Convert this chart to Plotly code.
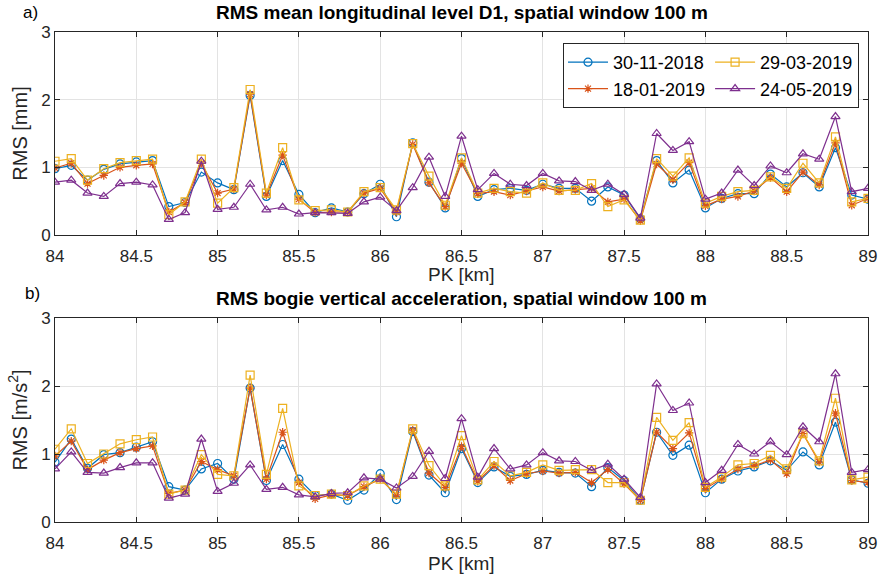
import plotly.graph_objects as go
from plotly.subplots import make_subplots

pk = [round(84 + 0.1 * i, 1) for i in range(51)]

labels = ["30-11-2018", "18-01-2019", "29-03-2019", "24-05-2019"]
colors = ["#0072BD", "#D95319", "#EDB120", "#7E2F8E"]
symbols = ["circle-open", "asterisk-open", "square-open", "triangle-up-open"]
legend_cols = ["col1", "col1", "col2", "col2"]

d1_2018_11 = [0.98, 1.03, 0.81, 0.97, 1.05, 1.08, 1.10, 0.42, 0.48, 0.93, 0.77, 0.67, 2.06, 0.57, 1.10, 0.60, 0.33, 0.40, 0.34, 0.61,
              0.75, 0.27, 1.36, 0.78, 0.40, 1.13, 0.57, 0.67, 0.69, 0.66, 0.75, 0.69, 0.69, 0.50, 0.71, 0.59, 0.24, 1.10, 0.77, 0.96,
              0.40, 0.54, 0.61, 0.61, 0.90, 0.71, 0.92, 0.71, 1.29, 0.59, 0.53]
d1_2019_01 = [0.99, 1.06, 0.76, 0.88, 1.00, 1.03, 1.05, 0.34, 0.48, 1.06, 0.62, 0.68, 2.08, 0.59, 1.18, 0.53, 0.33, 0.34, 0.34, 0.62,
              0.69, 0.34, 1.34, 0.77, 0.42, 1.06, 0.61, 0.64, 0.59, 0.65, 0.71, 0.65, 0.67, 0.69, 0.49, 0.53, 0.21, 1.05, 0.82, 1.07,
              0.43, 0.53, 0.57, 0.65, 0.85, 0.64, 0.93, 0.74, 1.36, 0.44, 0.54]
d1_2019_03 = [1.09, 1.13, 0.81, 0.98, 1.07, 1.10, 1.12, 0.30, 0.49, 1.12, 0.47, 0.70, 2.15, 0.62, 1.29, 0.52, 0.36, 0.37, 0.34, 0.64,
              0.70, 0.37, 1.35, 0.87, 0.44, 1.14, 0.62, 0.69, 0.64, 0.62, 0.77, 0.66, 0.66, 0.76, 0.42, 0.52, 0.22, 1.13, 0.87, 1.14,
              0.47, 0.57, 0.64, 0.66, 0.86, 0.69, 1.06, 0.77, 1.45, 0.49, 0.54]
d1_2019_05 = [0.78, 0.81, 0.62, 0.57, 0.76, 0.78, 0.74, 0.23, 0.33, 1.09, 0.38, 0.41, 0.75, 0.37, 0.41, 0.31, 0.33, 0.33, 0.32, 0.49,
              0.56, 0.36, 0.70, 1.15, 0.57, 1.46, 0.67, 0.91, 0.75, 0.73, 0.91, 0.80, 0.79, 0.66, 0.75, 0.60, 0.25, 1.50, 1.25, 1.38,
              0.53, 0.62, 0.96, 0.73, 1.02, 0.92, 1.20, 1.12, 1.75, 0.64, 0.69]

acc_2018_11 = [0.88, 1.22, 0.79, 0.99, 1.02, 1.10, 1.18, 0.52, 0.47, 0.78, 0.86, 0.63, 1.97, 0.61, 1.14, 0.63, 0.39, 0.41, 0.32, 0.47,
               0.71, 0.33, 1.33, 0.69, 0.43, 1.08, 0.58, 0.81, 0.67, 0.70, 0.76, 0.73, 0.72, 0.52, 0.80, 0.61, 0.32, 1.32, 0.98, 1.13,
               0.43, 0.63, 0.75, 0.81, 0.90, 0.76, 1.03, 0.84, 1.47, 0.62, 0.57]
acc_2019_01 = [0.97, 1.19, 0.77, 0.91, 1.02, 1.08, 1.12, 0.42, 0.47, 0.89, 0.77, 0.68, 1.97, 0.63, 1.32, 0.58, 0.34, 0.40, 0.39, 0.52,
               0.63, 0.40, 1.35, 0.72, 0.51, 1.11, 0.60, 0.83, 0.61, 0.71, 0.75, 0.72, 0.73, 0.58, 0.77, 0.56, 0.32, 1.32, 1.08, 1.31,
               0.49, 0.63, 0.78, 0.83, 0.91, 0.71, 1.30, 0.88, 1.60, 0.61, 0.58]
acc_2019_03 = [1.07, 1.37, 0.86, 1.00, 1.15, 1.21, 1.25, 0.41, 0.47, 0.99, 0.70, 0.68, 2.16, 0.70, 1.67, 0.53, 0.39, 0.41, 0.39, 0.53,
               0.63, 0.41, 1.37, 0.83, 0.53, 1.27, 0.62, 0.89, 0.68, 0.73, 0.84, 0.76, 0.77, 0.77, 0.58, 0.58, 0.32, 1.54, 1.20, 1.46,
               0.51, 0.66, 0.84, 0.86, 0.98, 0.78, 1.30, 0.90, 1.82, 0.62, 0.66]
acc_2019_05 = [0.78, 1.03, 0.73, 0.72, 0.80, 0.87, 0.87, 0.35, 0.41, 1.22, 0.45, 0.57, 0.84, 0.48, 0.51, 0.40, 0.37, 0.42, 0.43, 0.65,
               0.63, 0.50, 0.67, 1.04, 0.64, 1.52, 0.66, 1.08, 0.78, 0.84, 1.02, 0.90, 0.89, 0.76, 0.85, 0.63, 0.36, 2.03, 1.64, 1.75,
               0.58, 0.76, 1.14, 1.00, 1.18, 0.99, 1.40, 1.18, 2.18, 0.73, 0.77]

top_series = [d1_2018_11, d1_2019_01, d1_2019_03, d1_2019_05]
bot_series = [acc_2018_11, acc_2019_01, acc_2019_03, acc_2019_05]

FONT = "Liberation Sans, Arial, Helvetica, sans-serif"
AX = "#262626"

W, H = 879, 584
ML, MR, MT, MB = 55, 11, 32, 62
PW, PH = W - ML - MR, H - MT - MB


def px_x(p):
    return (p - ML) / PW


def px_y(p):
    return (H - MB - p) / PH


fig = make_subplots(rows=2, cols=1, vertical_spacing=0.0)

for row, series in ((1, top_series), (2, bot_series)):
    for k in range(4):
        fig.add_trace(go.Scatter(
            x=pk, y=series[k], mode="lines+markers", name=labels[k],
            line=dict(color=colors[k], width=1.2),
            marker=dict(symbol=symbols[k], size=8 if k != 1 else 7, color=colors[k],
                        line=dict(color=colors[k], width=1.2)),
            showlegend=(row == 1), legendgroup=legend_cols[k], legendrank=k + 1,
        ), row=row, col=1)

axis_common = dict(showline=True, linecolor=AX, linewidth=1, mirror="allticks",
                   ticks="inside", ticklen=5, tickcolor=AX, showgrid=True,
                   gridcolor="#e3e3e3", gridwidth=1, zeroline=False,
                   tickfont=dict(family=FONT, size=17, color=AX))

xt = [84, 84.5, 85, 85.5, 86, 86.5, 87, 87.5, 88, 88.5, 89]
xt_text = ["84", "84.5", "85", "85.5", "86", "86.5", "87", "87.5", "88", "88.5", "89"]

for r in (1, 2):
    fig.update_xaxes(range=[84, 89], tickvals=xt, ticktext=xt_text, ticklabelstandoff=6,
                     row=r, col=1, **axis_common)
    fig.update_yaxes(range=[0, 3], tickvals=[0, 1, 2, 3], row=r, col=1, **axis_common)

fig.update_yaxes(title=dict(text="RMS [mm]", font=dict(family=FONT, size=20, color=AX), standoff=8), row=1, col=1)
fig.update_yaxes(title=dict(text="RMS [m/s<sup>2</sup>]", font=dict(family=FONT, size=20, color=AX), standoff=8), row=2, col=1)

fig.update_layout(
    width=W, height=H,
    margin=dict(l=ML, r=MR, t=MT, b=MB, autoexpand=False),
    paper_bgcolor="white", plot_bgcolor="white",
    font=dict(family=FONT, color=AX),
    yaxis=dict(domain=[px_y(235), 1.0]),
    yaxis2=dict(domain=[0.0, px_y(318)]),
    legend=dict(orientation="h", traceorder="grouped", x=px_x(563), xanchor="left", y=px_y(43), yanchor="top",
                bgcolor="white", bordercolor=AX, borderwidth=1,
                font=dict(family=FONT, size=18, color="black"),
                itemwidth=40, tracegroupgap=6),
    annotations=[
        dict(text="<b>RMS mean longitudinal level D1, spatial window 100 m</b>", x=0.5, y=px_y(13),
             xref="paper", yref="paper", xanchor="center", yanchor="middle", showarrow=False,
             font=dict(family=FONT, size=19, color="black")),
        dict(text="<b>RMS bogie vertical acceleration, spatial window 100 m</b>", x=0.5, y=px_y(298),
             xref="paper", yref="paper", xanchor="center", yanchor="middle", showarrow=False,
             font=dict(family=FONT, size=19, color="black")),
        dict(text="PK [km]", x=0.5, y=px_y(274), xref="paper", yref="paper", xanchor="center",
             yanchor="middle", showarrow=False, font=dict(family=FONT, size=19, color=AX)),
        dict(text="PK [km]", x=0.5, y=px_y(563), xref="paper", yref="paper", xanchor="center",
             yanchor="middle", showarrow=False, font=dict(family=FONT, size=19, color=AX)),
        dict(text="a)", x=px_x(30), y=px_y(13), xref="paper", yref="paper", xanchor="center",
             yanchor="middle", showarrow=False, font=dict(family=FONT, size=17, color="black")),
        dict(text="b)", x=px_x(32), y=px_y(293), xref="paper", yref="paper", xanchor="center",
             yanchor="middle", showarrow=False, font=dict(family=FONT, size=17, color="black")),
    ],
)

fig.write_html("out.html", config={"displayModeBar": False},
               post_script="document.body.style.margin='0px';")
